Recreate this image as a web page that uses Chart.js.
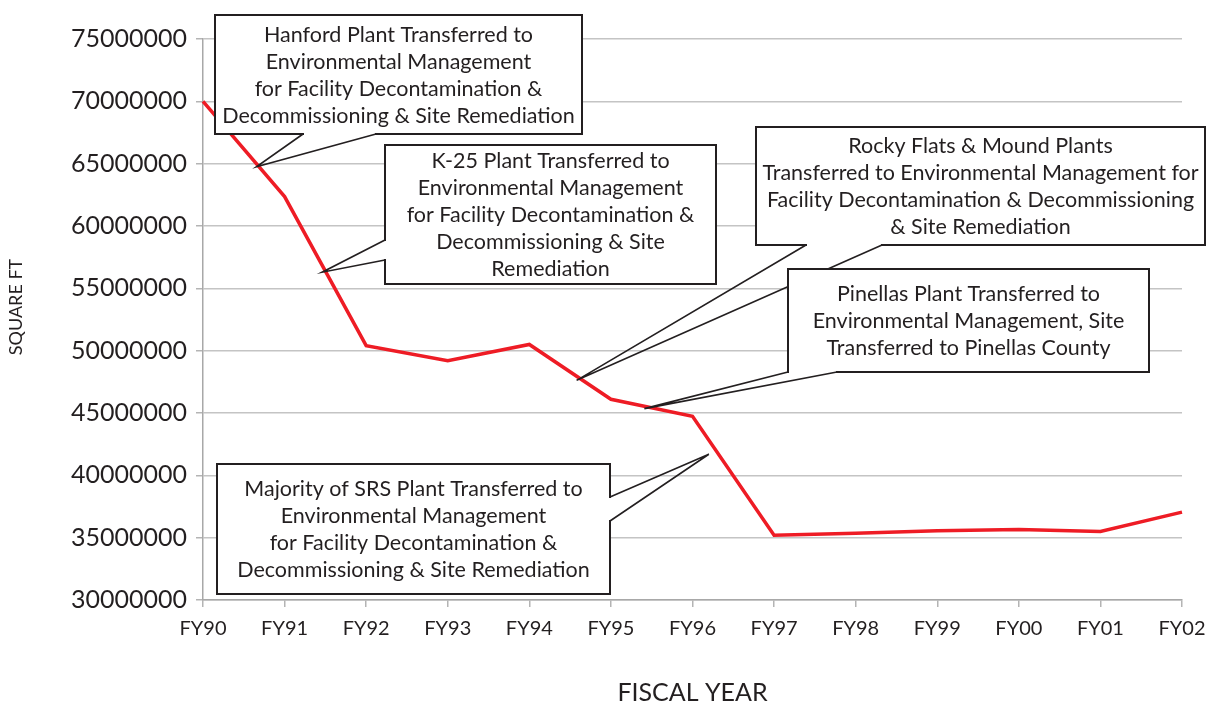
<!DOCTYPE html>
<html>
<head>
<meta charset="utf-8">
<script src="https://cdn.jsdelivr.net/npm/chart.js@4.4.1/dist/chart.umd.min.js"></script>
<style>
  html, body { margin: 0; padding: 0; background: #fff; }
  #wrap { width: 1206px; height: 704px; }
</style>
</head>
<body>
<div id="wrap"><canvas id="chart_sqft" width="1206" height="704"></canvas></div>
<script>
//---------------DATOS-----------
const years = ['FY90', 'FY91', 'FY92', 'FY93', 'FY94', 'FY95', 'FY96', 'FY97', 'FY98', 'FY99', 'FY00', 'FY01', 'FY02'];
const squareFeet = [70000000, 62360000, 50400000, 49200000, 50500000, 46100000, 44730000, 35200000, 35350000, 35550000, 35650000, 35500000, 37050000];
const yMin = 30000000;
const yMax = 75000000;
const yStep = 5000000;

//---------------NOTAS (cajas en px, punta en ejes: [indice, valor])-----------
const noteLines = [
  ['Hanford Plant Transferred to', 'Environmental Management', 'for Facility Decontamination &', 'Decommissioning & Site Remediation'],
  ['K-25 Plant Transferred to', 'Environmental Management', 'for Facility Decontamination &', 'Decommissioning & Site', 'Remediation'],
  ['Rocky Flats & Mound Plants', 'Transferred to Environmental Management for', 'Facility Decontamination & Decommissioning', '& Site Remediation'],
  ['Pinellas Plant Transferred to', 'Environmental Management, Site', 'Transferred to Pinellas County'],
  ['Majority of SRS Plant Transferred to', 'Environmental Management', 'for Facility Decontamination &', 'Decommissioning & Site Remediation']
];
const noteTips = [[0.655, 64750000], [1.46, 56290000], [4.58, 47620000], [5.41, 45350000], [6.2, 41690000]];
const noteBoxes = [[215, 15, 582, 134], [385, 145, 716, 284], [756, 127, 1205, 245], [788, 269, 1149, 372], [217, 464, 610, 594]];
// dos puntos donde el pico sale de la caja
const noteBase = [
  [[303, 134], [376, 134]],
  [[385, 240], [385, 260]],
  [[806, 245], [882, 245]],
  [[788, 372], [837, 372]],
  [[610, 497], [610, 521]]
];

const INK = '#231f20';
const FONT = 'Lato';

const notesPlugin = {
  id: 'notes',
  afterDraw(chart) {
    const ctx = chart.ctx;
    const xs = chart.scales.x;
    const ys = chart.scales.y;
    ctx.save();

    // titulo eje y
    ctx.save();
    ctx.translate(16, 307);
    ctx.rotate(-Math.PI / 2);
    ctx.font = '18px ' + FONT;
    ctx.fillStyle = INK;
    ctx.textAlign = 'center';
    ctx.textBaseline = 'middle';
    ctx.fillText('SQUARE FT', 0, 0);
    ctx.restore();

    noteBoxes.forEach((b, i) => {
      const [x0, y0, x1, y1] = b;
      const tx = xs.getPixelForValue(noteTips[i][0]);
      const ty = ys.getPixelForValue(noteTips[i][1]);
      const [p, q] = noteBase[i];

      ctx.fillStyle = '#fff';
      ctx.fillRect(x0, y0, x1 - x0, y1 - y0);
      ctx.strokeStyle = INK;
      ctx.lineWidth = 2;
      ctx.strokeRect(x0, y0, x1 - x0, y1 - y0);

      // hueco del pico
      ctx.strokeStyle = '#fff';
      ctx.lineWidth = 4;
      ctx.beginPath();
      if (p[0] === q[0]) {
        ctx.moveTo(p[0], Math.min(p[1], q[1]) + 1);
        ctx.lineTo(q[0], Math.max(p[1], q[1]) - 1);
      } else {
        ctx.moveTo(Math.min(p[0], q[0]) + 1, p[1]);
        ctx.lineTo(Math.max(p[0], q[0]) - 1, q[1]);
      }
      ctx.stroke();

      ctx.strokeStyle = INK;
      ctx.lineWidth = 1.6;
      ctx.beginPath();
      ctx.moveTo(p[0], p[1]);
      ctx.lineTo(tx, ty);
      ctx.lineTo(q[0], q[1]);
      ctx.stroke();

      const lines = noteLines[i];
      const lh = 27;
      const cy = (y0 + y1) / 2 + 1;
      ctx.fillStyle = INK;
      ctx.font = '21.5px ' + FONT;
      ctx.textAlign = 'center';
      ctx.textBaseline = 'middle';
      lines.forEach((t, k) => {
        ctx.fillText(t, (x0 + x1) / 2, cy + (k - (lines.length - 1) / 2) * lh);
      });
    });
    ctx.restore();
  }
};

const ctx_sq = document.getElementById('chart_sqft').getContext('2d');
const chart_sqft = new Chart(ctx_sq, {
  type: 'line',
  data: {
    labels: years,
    datasets: [{
      label: 'Square ft',
      data: squareFeet,
      borderColor: '#ee1c25',
      borderWidth: 3.5,
      pointRadius: 0,
      tension: 0,
      fill: false
    }]
  },
  options: {
    responsive: false,
    animation: false,
    layout: { padding: { top: 39, right: 2, bottom: 0, left: 0 } },
    plugins: {
      legend: { display: false },
      tooltip: { enabled: false }
    },
    scales: {
      x: {
        ticks: { color: INK, font: { family: FONT, size: 20 }, padding: 10, maxRotation: 0, autoSkip: false },
        grid: { drawOnChartArea: false, tickLength: 7, color: '#b4b4b4', lineWidth: 1.5 },
        border: { color: '#a8a8a8', width: 1.5 },
        title: { display: true, text: 'FISCAL YEAR', color: INK, font: { family: FONT, size: 25, lineHeight: 0.9 }, padding: { top: 0, bottom: 0 } },
        afterFit(s) { s.height = 104; s.paddingRight = 24; }
      },
      y: {
        min: yMin,
        max: yMax,
        ticks: { stepSize: yStep, color: INK, font: { family: FONT, size: 25 }, padding: 9, callback: v => String(v) },
        grid: { color: '#c4c4c4', lineWidth: 1.5, tickLength: 7, tickColor: '#b4b4b4' },
        border: { color: '#a8a8a8', width: 1.5 },
        afterFit(s) { s.width = 203; }
      }
    }
  },
  plugins: [notesPlugin]
});
</script>
</body>
</html>
